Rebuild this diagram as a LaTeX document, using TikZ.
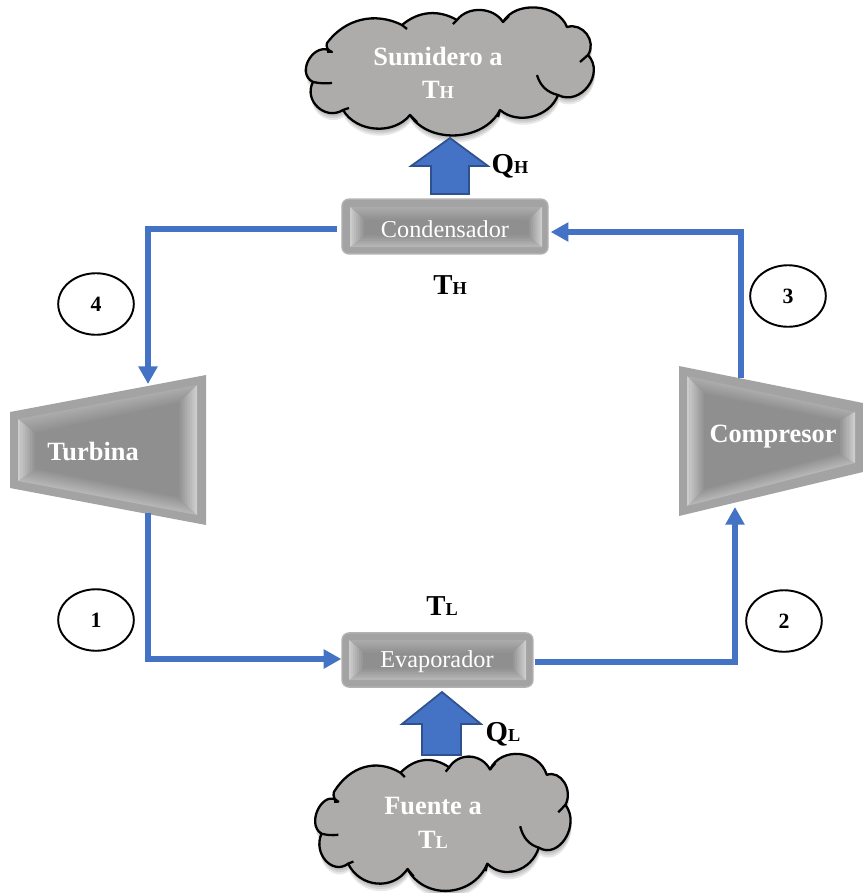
\documentclass[tikz,border=0pt]{standalone}
\usepackage{fontspec}
\setmainfont{Liberation Serif}
\usetikzlibrary{arrows.meta,calc,shapes.geometric}
\definecolor{flowblue}{HTML}{4472C4}
\definecolor{flowedge}{HTML}{2F528F}
\definecolor{cloudgray}{HTML}{AEABAB}
\tikzset{
  flowline/.style={flowblue,line width=1.6pt,-{Triangle[width=5.2pt,length=5pt]}},
  bigarrow/.style={draw=flowedge,fill=flowblue,line width=0.5pt},
  unitbox/.style={rectangle,rounded corners=2pt,fill=black!36,draw=black!30,line width=0.4pt,inner sep=0pt},
  unittext/.style={white,font=\fontsize{6.9}{8}\selectfont},
  bigtext/.style={white,font=\bfseries\fontsize{7.5}{9}\selectfont},
  statecircle/.style={ellipse,draw=black,line width=0.55pt,fill=white,minimum width=21.5pt,minimum height=17.5pt,inner sep=0pt,font=\bfseries\fontsize{6.2}{7}\selectfont},
  heatlabel/.style={black,font=\bfseries\fontsize{8.2}{9}\selectfont}
}
\newcommand{\subtxt}[2]{#1{\fontsize{5.2}{6}\selectfont #2}}
% cloud outline, in the coordinates of the upper cloud
\newcommand{\cloudpath}{(332,52) to[bend right=95,looseness=1.5] (313,82)
  to[bend right=75,looseness=1.3] (343,110) to[bend right=55] (410,115)
  to[bend right=60] (500,110) to[bend right=55] (558,95)
  to[bend right=80,looseness=1.3] (588,55) to[bend right=70,looseness=1.2] (567,27)
  to[bend right=65] (503,22) to[bend right=55] (457,20) to[bend right=35] (402,25)
  to[bend right=40] (327,43) to[bend right=50] cycle}
\newcommand{\cloudshape}{
  \foreach \s in {7,5,3,1}
    \fill[black,opacity=0.09,shift={(1,\s)}] \cloudpath;
  \draw[fill=cloudgray,line width=0.65pt,line join=round] \cloudpath;
  \draw[line width=0.65pt] (313,82) to[bend right=8] (332,83);
  \draw[line width=0.65pt] (343,110) -- (349,108);
  \draw[line width=0.65pt] (410,115) -- (417,122);
  \draw[line width=0.65pt] (500,110) -- (498,117);
  \draw[line width=0.65pt] (558,95) to[bend left=30] (537,75);
  \draw[line width=0.65pt] (588,55) -- (580,62);
  \draw[line width=0.65pt] (503,22) -- (509,16);
  \draw[line width=0.65pt] (457,20) -- (453,24);
  \draw[line width=0.65pt] (402,25) -- (407,29);
  \draw[line width=0.65pt] (332,52) -- (327,52);
}
% sloped faces of a machine: inner corners, then corners of the flat middle
\newcommand{\bevelfaces}[8]{
  \coordinate (p1) at (#1); \coordinate (p2) at (#2);
  \coordinate (p3) at (#3); \coordinate (p4) at (#4);
  \coordinate (q1) at (#5); \coordinate (q2) at (#6);
  \coordinate (q3) at (#7); \coordinate (q4) at (#8);
  \fill[black!44] (q1) -- (q2) -- (q3) -- (q4) -- cycle;
  \foreach \pa/\pb/\qa/\qb/\edge in {p1/p2/q1/q2/33,p3/p4/q3/q4/29,p2/p3/q2/q3/20,p4/p1/q4/q1/20}
    \foreach \k in {0,...,7} {
      \pgfmathsetmacro{\tone}{\edge+(44-\edge)*\k/7}
      \pgfmathsetmacro{\kk}{(\k+1.15)/8}
      \pgfmathsetmacro{\kj}{\k/8}
      \fill[black!\tone] ($(\pa)!\kj!(\qa)$) -- ($(\pb)!\kj!(\qb)$)
        -- ($(\pb)!\kk!(\qb)$) -- ($(\pa)!\kk!(\qa)$) -- cycle;
    }
}
\begin{document}
\begin{tikzpicture}[x=0.01cm,y=-0.01cm]
  \useasboundingbox (0,0) rectangle (863,893);
  % clouds
  \cloudshape
  \begin{scope}[shift={(443,823)},xscale=0.887,yscale=1.07,shift={(-450,-72)}]
    \cloudshape
  \end{scope}
  \node[bigtext] (sumidero) at (438,57) {Sumidero a};
  \node[bigtext] (sumideroT) at (438,90) {\subtxt{T}{H}};
  \node[bigtext] (fuente) at (433,806) {Fuente a};
  \node[bigtext] (fuenteT) at (433,840) {\subtxt{T}{L}};
  % heat arrows
  \draw[bigarrow] (450,138) -- (488,166) -- (469,166) -- (469,194) -- (431,194)
    -- (431,166) -- (411,166) -- cycle;
  \draw[bigarrow] (442,692) -- (481,724) -- (461,724) -- (461,755) -- (422,755)
    -- (422,724) -- (402,724) -- cycle;
  % condenser and evaporator
  \node[unitbox,minimum width=58.6pt,minimum height=15.6pt] (cond) at (445,226.5) {};
  \bevelfaces{350,207}{542,207}{542,247}{350,247}{366,221}{527,221}{527,234}{366,234}
  \node[unittext] (condT) at (445,229) {Condensador};
  \node[unitbox,minimum width=54.3pt,minimum height=15.4pt] (evap) at (437.5,660) {};
  \bevelfaces{349,640}{526,640}{526,680}{349,680}{365,654}{511,654}{511,667}{365,667}
  \node[unittext] (evapT) at (437,662) {Evaporador};
  % turbine
  \fill[black!36] (10,412) -- (206,375) -- (206,525) -- (10,488) -- cycle;
  \bevelfaces{18,419}{197,385}{197,515}{18,481}{37,435}{177,405}{177,495}{37,467}
  \node[bigtext] (turbina) at (93,451) {Turbina};
  % compressor
  \fill[black!36] (679,366) -- (863,403) -- (863,472) -- (679,516) -- cycle;
  \bevelfaces{687,376}{855,412}{855,463}{687,506}{706,396}{838,422}{838,452}{706,487}
  \node[bigtext] (compresor) at (773,437) {Compresor};
  % ends of the flow lines
  \coordinate (turbIn) at (148,384);
  \coordinate (turbOut) at (148,513);
  \coordinate (compIn) at (735,507);
  \coordinate (compOut) at (741,378);
  \coordinate (corner4) at (148,229);
  \coordinate (corner1) at (148,659);
  \coordinate (corner2) at (735,662);
  \coordinate (corner3) at (741,232);
  \draw[flowline,line join=miter] (cond.west |- corner4) ++(-4,0) -- (corner4) -- (turbIn);
  \draw[flowline,line join=miter] (turbOut) -- (corner1) -- (evap.west |- corner1);
  \draw[flowline,line join=miter] (evap.east |- corner2) ++(1,0) -- (corner2) -- (compIn);
  \draw[flowline,line join=miter] (compOut) -- (corner3) -- ($(cond.east |- corner3)+(2,0)$);
  % states
  \node[statecircle] (st1) at (96,620) {1};
  \node[statecircle] (st2) at (784,621) {2};
  \node[statecircle] (st3) at (788,296) {3};
  \node[statecircle] (st4) at (96,304) {4};
  % labels
  \node[heatlabel] (qh) at (510,166) {\subtxt{Q}{H}};
  \node[heatlabel] (th) at (450,285) {\subtxt{T}{H}};
  \node[heatlabel] (tl) at (442,606) {\subtxt{T}{L}};
  \node[heatlabel] (ql) at (503,734) {\subtxt{Q}{L}};
\end{tikzpicture}
\end{document}
